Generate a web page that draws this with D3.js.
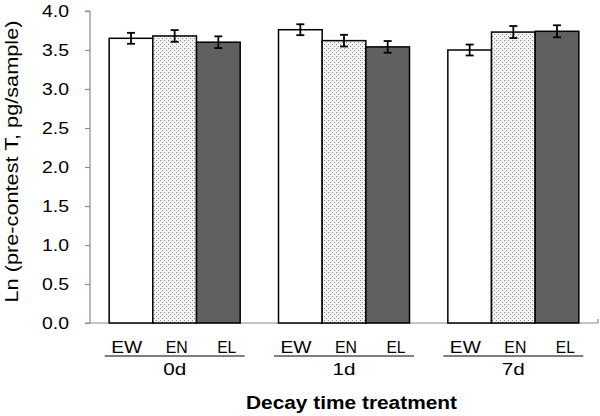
<!DOCTYPE html>
<html><head><meta charset="utf-8">
<script src="https://cdn.jsdelivr.net/npm/d3@7"></script>
<style>body{margin:0;background:#fff}svg{display:block}text{font-family:"Liberation Sans",Arial,sans-serif}</style>
</head><body><svg id="c" width="600" height="416"></svg>
<script>
const groups = ["0d","1d","7d"];
const subs = ["EW","EN","EL"];
const values = {
  EW: [3.65, 3.76, 3.50],
  EN: [3.68, 3.62, 3.73],
  EL: [3.60, 3.54, 3.74]
};
const errors = {
  EW: [0.07, 0.07, 0.07],
  EN: [0.075, 0.075, 0.077],
  EL: [0.075, 0.075, 0.077]
};
const yTicks = [0,0.5,1.0,1.5,2.0,2.5,3.0,3.5,4.0];

const svg = d3.select("#c");
const L = 90, R = 598, T = 11, B = 323;
const x0 = d3.scaleBand().domain(groups).range([L, R]).paddingInner(0).paddingOuter(0);
const x1 = d3.scaleBand().domain(subs).range([0, 131]);
const y = d3.scaleLinear().domain([0, 4]).range([B, T]);

const defs = svg.append("defs");
const pat = defs.append("pattern").attr("id","dots").attr("patternUnits","userSpaceOnUse").attr("width",4).attr("height",4);
pat.append("rect").attr("width",4).attr("height",4).attr("fill","#f2f2f2");
pat.append("rect").attr("x",0).attr("y",0).attr("width",1).attr("height",1).attr("fill","#8a8a8a");
pat.append("rect").attr("x",2).attr("y",2).attr("width",1).attr("height",1).attr("fill","#8a8a8a");
const fills = {EW:"#ffffff", EN:"url(#dots)", EL:"#606060"};

// y axis
const ya = svg.append("g").attr("transform",`translate(${L},0)`)
  .call(d3.axisLeft(y).tickValues(yTicks).tickFormat(d3.format(".1f")).tickSize(5).tickPadding(16));
ya.select(".domain").attr("stroke","#8c8c8c").attr("stroke-width",1.2).attr("d",`M-5,${T}H0V${B}`);
ya.selectAll(".tick line").attr("stroke","#8c8c8c").attr("stroke-width",1.2);
ya.selectAll(".tick text").attr("font-size",16).attr("fill","#000")
  .attr("textLength",27).attr("lengthAdjust","spacingAndGlyphs")
  .style("font-family","Liberation Sans, Arial, sans-serif");

// x axis line
svg.append("line").attr("x1",L-5).attr("x2",R).attr("y1",B).attr("y2",B).attr("stroke","#8c8c8c").attr("stroke-width",1.2);
svg.append("line").attr("x1",R).attr("x2",R).attr("y1",B).attr("y2",B-4).attr("stroke","#8c8c8c").attr("stroke-width",1.2);

// bars
groups.forEach((g,gi)=>{
  const gx = x0(g) + (x0.bandwidth()-131)/2;
  subs.forEach(s=>{
    const v = values[s][gi], e = errors[s][gi];
    const bx = gx + x1(s);
    svg.append("rect").attr("x",bx).attr("y",y(v)).attr("width",x1.bandwidth()).attr("height",B-y(v))
      .attr("fill",fills[s]).attr("stroke","#000").attr("stroke-width",1.5);
    const cx = bx + x1.bandwidth()/2;
    const eb = svg.append("g").attr("stroke","#000").attr("stroke-width",1.8);
    eb.append("line").attr("x1",cx).attr("x2",cx).attr("y1",y(v+e)).attr("y2",y(v-e));
    eb.append("line").attr("x1",cx-4).attr("x2",cx+4).attr("y1",y(v+e)).attr("y2",y(v+e));
    eb.append("line").attr("x1",cx-4).attr("x2",cx+4).attr("y1",y(v-e)).attr("y2",y(v-e));
  });
});

// category labels
const xs = d3.scalePoint().domain(subs).range([-48, 52]);
const subW = {EW:31, EN:22, EL:19};
groups.forEach(g=>{
  const c = x0(g) + x0.bandwidth()/2;
  subs.forEach(s=>{
    svg.append("text").attr("x",c+xs(s)).attr("y",353).attr("text-anchor","middle").attr("font-size",16)
      .attr("textLength",subW[s]).attr("lengthAdjust","spacingAndGlyphs").text(s);
  });
  svg.append("line").attr("x1",c-70).attr("x2",c+70).attr("y1",356).attr("y2",356).attr("stroke","#000").attr("stroke-width",1.2);
  svg.append("text").attr("x",c).attr("y",375).attr("text-anchor","middle").attr("font-size",17)
    .attr("textLength",23).attr("lengthAdjust","spacingAndGlyphs").text(g);
});

svg.append("text").attr("x",351.5).attr("y",409).attr("text-anchor","middle").attr("font-size",17.5).attr("font-weight","bold")
  .attr("textLength",211).attr("lengthAdjust","spacingAndGlyphs").text("Decay time treatment");
svg.append("text").attr("transform","translate(17.5,161.5) rotate(-90)").attr("text-anchor","middle").attr("font-size",17.5)
  .attr("textLength",282).attr("lengthAdjust","spacingAndGlyphs").text("Ln (pre-contest T, pg/sample)");
</script></body></html>
